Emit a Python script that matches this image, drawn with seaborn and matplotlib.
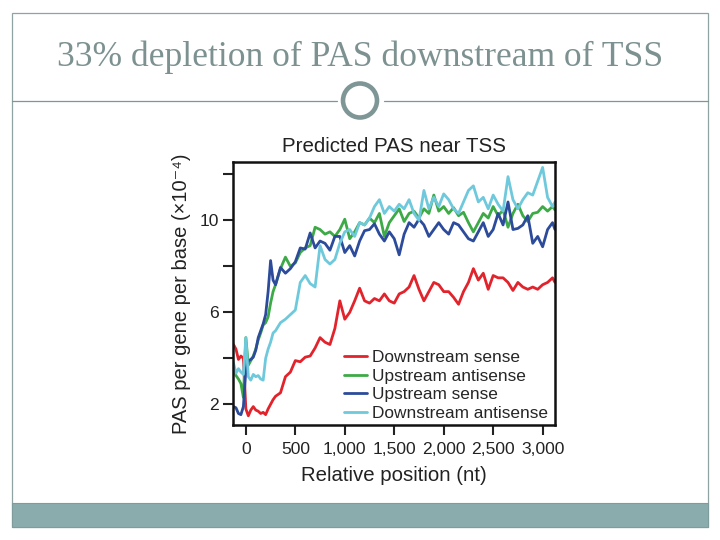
import numpy as np
import pandas as pd
import matplotlib
matplotlib.use("Agg")
import matplotlib.pyplot as plt
from matplotlib.patches import Rectangle, Ellipse
from matplotlib.lines import Line2D
import seaborn as sns

# Positions relative to TSS (nt)
positions = list(range(-125, 301, 25)) + list(range(350, 3101, 50)) + [3125]

# PAS per gene per base (x10^-4)
downstream_sense = [
    4.6, 4.4, 3.95, 4.1, 4.0, 1.8, 1.5, 1.75, 1.9, 1.75, 1.7, 1.6, 1.65, 1.55, 1.8, 2.0, 2.2, 2.35,
    2.5, 3.2, 3.4, 3.9, 3.85, 4.05, 4.1, 4.45, 4.9, 4.7, 4.6, 5.3,
    6.5, 5.7, 6.0, 6.5, 7.05, 6.5, 6.4, 6.6, 6.5, 6.8, 6.5, 6.4,
    6.8, 6.9, 7.1, 7.6, 7.0, 6.5, 6.9, 7.3, 7.2, 6.9, 6.9, 6.65,
    6.35, 6.9, 7.3, 7.9, 7.4, 7.7, 7.0, 7.6, 7.5, 7.5, 7.3, 6.95,
    7.3, 7.1, 7.0, 7.1, 7.0, 7.2, 7.3, 7.5,
    7.3,
]
upstream_antisense = [
    3.6, 3.25, 3.1, 2.9, 2.3, 4.9, 3.7, 3.9, 4.1, 4.4, 4.8, 5.1, 5.45, 5.55, 5.8, 6.4, 6.9, 7.2,
    7.9, 8.4, 8.0, 8.15, 8.6, 8.8, 8.9, 9.7, 9.6, 9.4, 9.5, 9.3,
    9.6, 10.05, 9.2, 9.5, 9.9, 9.8, 10.1, 9.9, 10.3, 9.3, 9.9, 10.2,
    10.5, 9.95, 10.3, 10.4, 10.1, 10.5, 10.3, 11.1, 10.4, 10.6, 10.3, 10.55,
    10.2, 10.35, 9.9, 9.5, 9.9, 10.3, 10.1, 10.6, 10.2, 10.45, 9.7, 10.3,
    10.7, 10.2, 9.95, 10.3, 10.35, 10.6, 10.4, 10.6,
    10.45,
]
upstream_sense = [
    1.9, 1.85, 1.6, 1.55, 1.9, 3.5, 3.9, 3.95, 4.05, 4.35, 4.9, 5.2, 5.5, 5.9, 6.9, 8.25, 7.4, 7.2,
    7.95, 7.7, 7.9, 8.2, 8.8, 8.75, 9.45, 8.8, 9.1, 9.0, 8.7, 9.3,
    9.3, 8.6, 8.9, 8.45, 9.1, 9.55, 9.6, 9.85, 9.4, 9.1, 9.5, 9.2,
    8.5, 9.4, 9.9, 9.7, 10.05, 9.8, 9.3, 9.6, 9.9, 9.6, 9.4, 9.9,
    9.8, 9.5, 9.2, 9.1, 9.5, 9.9, 9.3, 9.6, 10.3, 9.8, 10.8, 9.6,
    9.65, 9.8, 10.2, 9.0, 9.3, 8.85, 9.6, 9.9,
    9.6,
]
downstream_antisense = [
    3.8, 3.35, 3.55, 3.4, 3.3, 4.9, 3.2, 3.05, 3.3, 3.2, 3.25, 3.1, 3.05, 4.0, 4.4, 4.7, 5.1, 5.2,
    5.55, 5.7, 5.9, 6.1, 7.3, 7.6, 7.25, 7.1, 8.9, 8.3, 8.1, 8.3,
    9.0, 9.5, 9.6, 9.3, 9.9, 9.8, 10.1, 10.6, 10.9, 10.3, 10.6, 10.4,
    10.7, 10.5, 10.9, 10.3, 10.0, 11.3, 10.5, 11.0, 10.6, 11.15, 10.9, 10.5,
    10.3, 10.8, 11.3, 11.5, 10.8, 11.0, 10.5, 11.1, 10.7, 10.4, 11.9, 10.9,
    10.5, 10.9, 11.2, 11.1, 11.7, 12.3, 11.0, 10.6,
    10.8,
]

series_names = ["Downstream sense", "Upstream antisense", "Upstream sense", "Downstream antisense"]
series_colors = ["#E2232B", "#3DAA47", "#2C4B9B", "#6FC9DC"]

frames = []
for name, vals in zip(series_names, [downstream_sense, upstream_antisense, upstream_sense, downstream_antisense]):
    frames.append(pd.DataFrame({"position": positions, "pas": vals, "series": name}))
df = pd.concat(frames, ignore_index=True)

xtick_vals = [0, 500, 1000, 1500, 2000, 2500, 3000]
xtick_labels = ["0", "500", "1,000", "1,500", "2,000", "2,500", "3,000"]
ytick_vals = [2, 4, 6, 8, 10, 12]
ytick_labels = ["2", "", "6", "", "10", ""]

sns.set_style("ticks")
plt.rcParams["font.family"] = ["Liberation Sans", "DejaVu Sans"]

fig = plt.figure(figsize=(7.2, 5.4), dpi=100)

# slide decoration
slide_grey = "#7F9696"
fig.patches.append(Rectangle((12 / 720, 13 / 540), 696 / 720, 514 / 540, transform=fig.transFigure,
                             fill=False, edgecolor="#8FA3A3", linewidth=0.9))
fig.patches.append(Rectangle((12 / 720, 13 / 540), 696 / 720, 24 / 540, transform=fig.transFigure,
                             facecolor="#8AACAC", edgecolor="#7E9C9C", linewidth=0.8))
line_y = (540 - 100.5) / 540
fig.lines.append(Line2D([12 / 720, 337 / 720], [line_y, line_y], transform=fig.transFigure,
                        color=slide_grey, linewidth=0.9))
fig.lines.append(Line2D([384 / 720, 708 / 720], [line_y, line_y], transform=fig.transFigure,
                        color=slide_grey, linewidth=0.9))
fig.patches.append(Ellipse((360 / 720, line_y), 34 / 720, 34 / 540, transform=fig.transFigure,
                           fill=False, edgecolor=slide_grey, linewidth=3.3))
fig.text(360 / 720, (540 - 57) / 540, "33% depletion of PAS downstream of TSS",
         ha="center", va="center", fontsize=25.6, color="#7D9191",
         family=["Liberation Serif", "DejaVu Serif"])

# chart
ax = fig.add_axes([233 / 720, 115 / 540, 322 / 720, 263.3 / 540])
sns.lineplot(data=df, x="position", y="pas", hue="series", hue_order=series_names,
             palette=series_colors, linewidth=2.0, ax=ax)

ax.set_xlim(-130, 3125)
ax.set_ylim(1.1, 12.55)
ax.set_xticks(xtick_vals)
ax.set_xticklabels(xtick_labels)
ax.set_yticks(ytick_vals)
ax.set_yticklabels(ytick_labels)
ax.tick_params(axis="both", direction="out", length=7, width=1.5, labelsize=12.6,
               colors="#222222", pad=3)
ax.tick_params(axis="x", pad=5.5)
for side in ["left", "right", "top", "bottom"]:
    ax.spines[side].set_visible(True)
    ax.spines[side].set_linewidth(1.8)
    ax.spines[side].set_color("#111111")

ax.set_title("Predicted PAS near TSS", fontsize=14.8, color="#222222", pad=7)
ax.set_xlabel("Relative position (nt)", fontsize=14.7, color="#222222", labelpad=6)
ax.set_ylabel("PAS per gene per base (×10⁻⁴)", fontsize=14.5, color="#222222", labelpad=6)

ax.legend(loc="lower left", bbox_to_anchor=(0.33, 0.0), frameon=False, fontsize=12.4,
          handlelength=1.35, handletextpad=0.3, labelspacing=0.2, borderpad=0.25,
          borderaxespad=0)

fig.savefig("out.png", dpi=100)
